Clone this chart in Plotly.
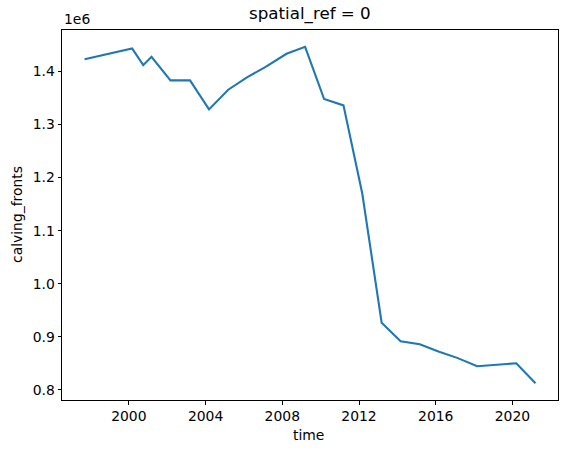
import plotly.graph_objects as go

# decimal years of observations
time_years = [1997.69, 2000.17, 2000.75, 2001.18, 2002.17, 2003.19, 2004.18, 2005.18,
              2006.16, 2007.09, 2008.22, 2009.19, 2010.18, 2011.19, 2012.17, 2013.18,
              2014.17, 2015.17, 2016.14, 2017.12, 2018.16, 2019.16, 2020.20, 2021.20]
calving_fronts = [1423100, 1443300, 1411900, 1427600, 1383100, 1383100, 1328500, 1365600,
                  1389000, 1407500, 1433300, 1446400, 1348000, 1336000, 1170000, 926600,
                  891600, 886000, 872200, 860200, 844500, 847000, 850100, 812500]
x_ticks = [2000, 2004, 2008, 2012, 2016, 2020]
y_ticks = [0.8, 0.9, 1.0, 1.1, 1.2, 1.3, 1.4]

W, H = 567, 453
L, R, T, B = 62, 558, 30, 400
FONT = "DejaVu Sans"

fig = go.Figure()
fig.add_trace(go.Scatter(x=time_years, y=calving_fronts, mode="lines",
                         line=dict(color="#1f77b4", width=2.1), showlegend=False))

xmin, xmax = min(time_years), max(time_years)
xpad = (xmax - xmin) * 0.05
ymin, ymax = min(calving_fronts), max(calving_fronts)
ypad = (ymax - ymin) * 0.05

axis_common = dict(showgrid=False, zeroline=False, showline=True, linecolor="black",
                   linewidth=1, mirror=True, ticks="outside", ticklen=3.5, tickwidth=1,
                   tickcolor="black", tickfont=dict(family=FONT, size=13.9, color="black"))

fig.update_xaxes(range=[xmin - xpad, xmax + xpad], tickvals=x_ticks,
                 ticktext=[str(v) for v in x_ticks], **axis_common)
fig.update_yaxes(range=[ymin - ypad, ymax + ypad], tickvals=[v * 1e6 for v in y_ticks],
                 ticktext=[f"{v:.1f}" for v in y_ticks], **axis_common)


def px(xp):
    return (xp - L) / (R - L)


def py(yp):
    return (B - yp) / (B - T)


annotations = [
    dict(text="spatial_ref = 0", x=px(310), y=py(26), xanchor="center", yanchor="bottom",
         font=dict(family=FONT, size=16.7, color="black")),
    dict(text="1e6", x=px(62), y=py(29.5), xanchor="left", yanchor="bottom",
         font=dict(family=FONT, size=13.9, color="black")),
    dict(text="time", x=px(308), y=py(435), xanchor="center", yanchor="middle",
         font=dict(family=FONT, size=13.9, color="black")),
    dict(text="calving_fronts", x=px(17), y=py(215), xanchor="center", yanchor="middle",
         textangle=-90, font=dict(family=FONT, size=13.9, color="black")),
]
for a in annotations:
    a.update(xref="paper", yref="paper", showarrow=False)

fig.update_layout(width=W, height=H, margin=dict(l=L, r=W - R, t=T, b=H - B, pad=0),
                  plot_bgcolor="white", paper_bgcolor="white", annotations=annotations,
                  font=dict(family=FONT, color="black"))

fig.write_html("out.html")
